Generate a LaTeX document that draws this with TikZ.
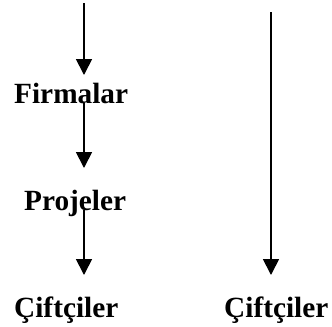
\documentclass[tikz,border=0pt]{standalone}
\usepackage{fontspec}
\setmainfont{Liberation Serif}
\usetikzlibrary{arrows.meta}
\begin{document}
\begin{tikzpicture}[x=1bp,y=-1bp,
  label/.style={inner sep=0pt,anchor=base west,font=\fontsize{29.3bp}{34bp}\selectfont\bfseries},
  flow/.style={line width=1.8bp,-{Triangle[width=16bp,length=16bp]}}]
  \useasboundingbox (0,0) rectangle (332,327);
  % left chain
  \node[label] (firm) at (14,103) {Firmalar};
  \node[label] (proj) at (24,210) {Projeler};
  \node[label] (farmL) at (14,317) {Çiftçiler};
  % right column
  \node[label] (farmR) at (224,317) {Çiftçiler};
  % free ends and arrow stops
  \coordinate (topL) at (84,3);
  \coordinate (topR) at (271,12);
  \coordinate (endA) at (84,75);
  \coordinate (startB) at (84,103);
  \coordinate (endB) at (84,168);
  \coordinate (startC) at (84,210);
  \coordinate (endC) at (84,275);
  \coordinate (endR) at (271,275);
  \draw[flow] (topL) -- (endA);
  \draw[flow] (startB) -- (endB);
  \draw[flow] (startC) -- (endC);
  \draw[flow] (topR) -- (endR);
\end{tikzpicture}
\end{document}
